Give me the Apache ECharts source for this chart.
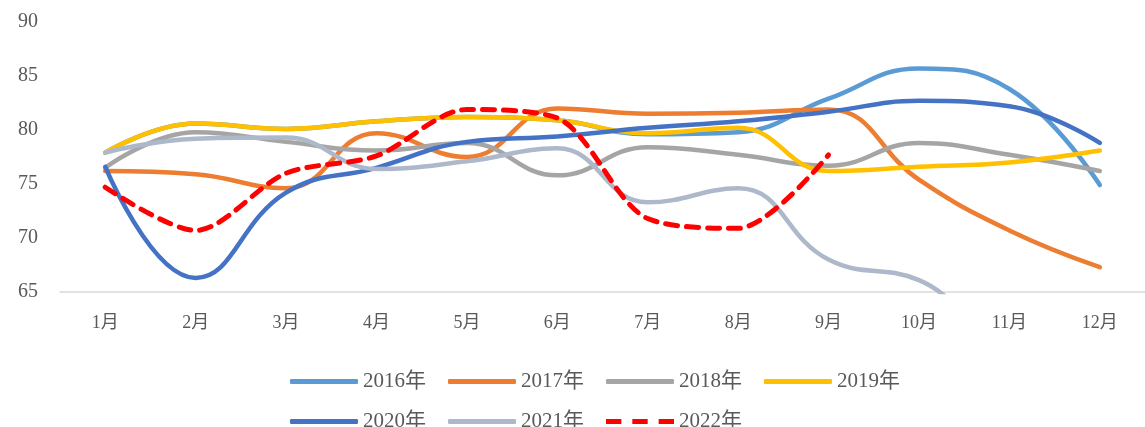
<!DOCTYPE html>
<html>
<head>
<meta charset="utf-8">
<script src="https://cdn.jsdelivr.net/npm/echarts@6/dist/echarts.min.js"></script>
<style>
  html, body { margin: 0; padding: 0; background: #fff; }
  #chart { width: 1145px; height: 427px; }
</style>
</head>
<body>
<div id="chart"></div>
<script>
// 月份
var months = ["1月", "2月", "3月", "4月", "5月", "6月", "7月", "8月", "9月", "10月", "11月", "12月"];
// 各年数据
var y2016 = [77.9, 80.6, 80.1, 80.8, 81.2, 80.9, 79.6, 79.8, 82.9, 85.7, 83.8, 74.9];
var y2017 = [76.2, 75.9, 74.6, 79.7, 77.5, 82.0, 81.5, 81.6, 81.9, 75.4, 70.7, 67.3];
var y2018 = [76.5, 79.8, 78.9, 78.1, 78.8, 75.8, 78.4, 77.7, 76.7, 78.8, 77.7, 76.2];
var y2019 = [77.9, 80.6, 80.1, 80.8, 81.2, 80.9, 79.7, 80.2, 76.2, 76.6, 77.0, 78.1];
var y2020 = [76.6, 66.3, 74.2, 76.5, 78.9, 79.4, 80.2, 80.8, 81.7, 82.7, 82.2, 78.8];
var y2021 = [77.9, 79.2, 79.3, 76.4, 77.1, 78.3, 73.3, 74.6, 68.0, 66.1, 61.0, 62.0];
var y2022 = [74.7, 70.7, 76.0, 77.6, 81.9, 81.1, 71.8, 70.9, 77.7, null, null, null];

var legendRow1 = ["2016年", "2017年", "2018年", "2019年"];
var legendRow2 = ["2020年", "2021年", "2022年"];

var chart = echarts.init(document.getElementById("chart"));

function line(name, data, color, extra) {
  var s = {
    name: name,
    type: "line",
    data: data,
    smooth: 0.45,
    symbol: "none",
    lineStyle: { color: color, width: 4.5, cap: "round" },
    itemStyle: { color: color },
  };
  return Object.assign(s, extra || {});
}

var textFont = "'Liberation Serif', 'Times New Roman', 'Noto Sans CJK SC', serif";
// 虚线图例
var dashIcon = "path://M0,0h14v5h-14z M24,0h14v5h-14z M48,0h14v5h-14z";

function legendRow(names, top) {
  return {
    data: names.map(function (n) {
      return { name: n, icon: n === "2022年" ? dashIcon : "roundRect" };
    }),
    left: 285,
    top: top,
    itemWidth: 68,
    itemHeight: 5,
    itemGap: 22,
    symbolKeepAspect: false,
    textStyle: { color: "#595959", fontSize: 21, fontFamily: textFont },
  };
}

var option = {
  animation: false,
  textStyle: { fontFamily: textFont },
  grid: { left: 60, right: 0, top: 22, bottom: 135 },
  legend: [legendRow(legendRow1, 366), legendRow(legendRow2, 406)],
  xAxis: {
    type: "category",
    data: months,
    boundaryGap: true,
    axisLine: { lineStyle: { color: "#D9D9D9", width: 1.5 } },
    axisTick: { show: false },
    axisLabel: { color: "#595959", fontSize: 18, margin: 22, fontFamily: textFont },
  },
  yAxis: {
    type: "value",
    min: 65,
    max: 90,
    interval: 5,
    splitLine: { show: false },
    axisLine: { show: false },
    axisTick: { show: false },
    axisLabel: { color: "#595959", fontSize: 20, margin: 22, fontFamily: textFont },
  },
  series: [
    line("2016年", y2016, "#5B9BD5"),
    line("2017年", y2017, "#ED7D31"),
    line("2018年", y2018, "#A5A5A5"),
    line("2019年", y2019, "#FFC000"),
    line("2020年", y2020, "#4472C4"),
    line("2021年", y2021, "#ADB9CA"),
    line("2022年", y2022, "#FF0000", {
      smooth: 0.3,
      lineStyle: { color: "#FF0000", width: 5, type: [12, 9], cap: "round" },
    }),
  ],
};

chart.setOption(option);
window.addEventListener("resize", function () {
  chart.resize();
});
</script>
</body>
</html>
